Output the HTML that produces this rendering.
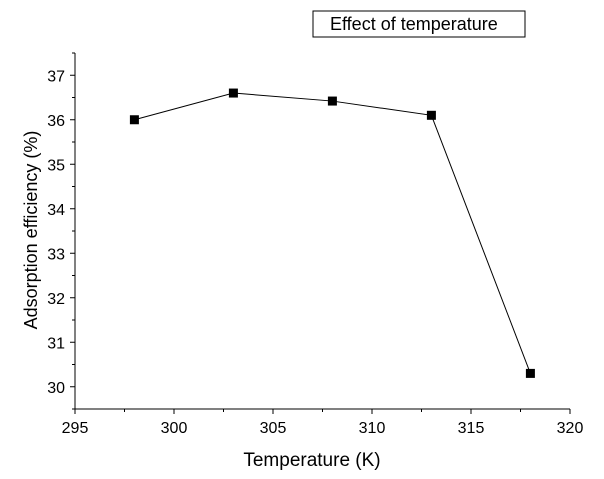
<!DOCTYPE html>
<html><head><meta charset="utf-8"><style>
body{margin:0;background:#fff;font-family:"Liberation Sans",Arial,sans-serif;}
svg text{font-family:"Liberation Sans",Arial,sans-serif;fill:#000;}
</style></head><body>
<svg id="chart" width="604" height="474">
<g id="axes"></g><g id="series"></g>
<g>
<rect x="313" y="11" width="212" height="26" fill="#fff" stroke="#000" stroke-width="1"/>
<text x="330" y="30" font-size="18">Effect of temperature</text>
</g>
<text x="312" y="466" font-size="19" text-anchor="middle">Temperature (K)</text>
<text transform="translate(37,230) rotate(-90)" font-size="18" text-anchor="middle">Adsorption efficiency (%)</text>
</svg>
<script>
const temps=[298,303,308,313,318];
const efficiency=[36.0,36.6,36.42,36.1,30.3];
const xTicks=[295,300,305,310,315,320];
const yTicks=[30,31,32,33,34,35,36,37];
const NS="http://www.w3.org/2000/svg";
const X0=75,X1=570,Y0=409,Y1=53;
const xs=v=>X0+(v-295)/(320-295)*(X1-X0);
const ys=v=>Y0-(v-29.5)/(37.5-29.5)*(Y0-Y1);
function mk(t,a,p){const e=document.createElementNS(NS,t);for(const k in a)e.setAttribute(k,a[k]);p.appendChild(e);return e;}
const ax=document.getElementById('axes');
let l=mk('line',{x1:X0,y1:Y0,x2:X1,y2:Y0,stroke:'#000'},ax);


l=mk('line',{x1:X0,y1:Y0,x2:X0,y2:Y1,stroke:'#000'},ax);


for(let v=295;v<=320;v+=2.5){const x=xs(v);const maj=v%5===0;mk('line',{x1:x,y1:Y0,x2:x,y2:Y0+(maj?5:3),stroke:'#000'},ax);}
xTicks.forEach(v=>{const t=mk('text',{x:xs(v),y:Y0+24,'font-size':16,'text-anchor':'middle'},ax);t.textContent=v;

});
for(let v=29.5;v<=37.5;v+=0.5){const y=ys(v);const maj=Math.abs(v-Math.round(v))<1e-9;mk('line',{x1:X0,y1:y,x2:X0-(maj?5:3),y2:y,stroke:'#000'},ax);}
yTicks.forEach(v=>{const t=mk('text',{x:X0-10,y:ys(v)+6,'font-size':16,'text-anchor':'end'},ax);t.textContent=v;

});
const s=document.getElementById('series');
const pl=mk('polyline',{points:temps.map((t,i)=>xs(t)+','+ys(efficiency[i])).join(' '),fill:'none',stroke:'#000','stroke-width':1},s);


temps.forEach((t,i)=>{const r=mk('rect',{x:xs(t)-4.5,y:ys(efficiency[i])-4.5,width:9,height:9,fill:'#000'},s);

});
</script>
</body></html>
